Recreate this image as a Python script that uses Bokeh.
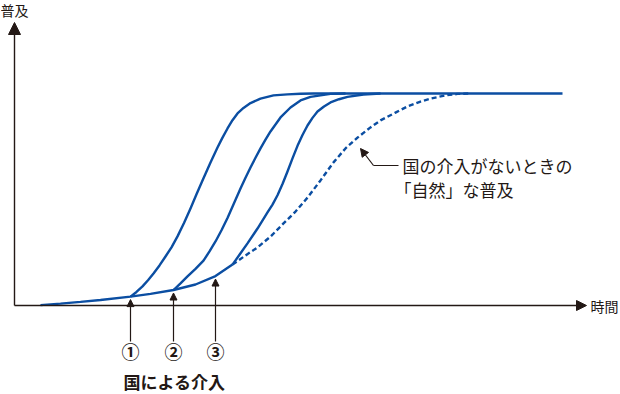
from bokeh.plotting import figure
from bokeh.models import Range1d, Arrow, NormalHead, ColumnDataSource
from bokeh.core.properties import value
from bokeh.embed import file_html
from bokeh.resources import INLINE

# Diffusion over time (time units, adoption in % of saturation)
base_t = [5.2, 9.2, 13.2, 17.2, 23.2, 27.2, 31.8, 36.2, 40.2, 43.6]
base_a = [0.2, 0.9, 1.7, 2.6, 4.2, 5.5, 7.3, 9.9, 13.9, 19.3]

# "Natural" diffusion without intervention (dashed continuation)
natural_t = [43.6, 46.2, 48.6, 51.2, 53.8, 56.2, 58.6, 61.2, 63.8, 66.2,
             68.6, 71.2, 73.2, 76.2, 78.6, 81.2, 83.2, 86.2, 88.6, 91.2]
natural_a = [19.3, 23.6, 27.4, 32.5, 38.7, 44.3, 50.9, 59.0, 67.5, 74.1,
             79.2, 84.0, 87.3, 91.0, 93.9, 96.2, 97.6, 99.1, 99.8, 100.0]

# Diffusion after intervention (1)
int1_t = [23.2, 24.4, 25.6, 26.7, 27.8, 29.0, 30.2, 31.4, 32.6, 33.9,
          35.2, 36.4, 37.6, 39.2, 40.6, 41.6, 42.6, 43.6, 44.6, 45.8,
          47.2, 49.2, 51.8, 54.6, 57.2, 59.8, 109.6]
int1_a = [4.2, 6.4, 9.0, 11.9, 15.1, 18.9, 23.1, 27.4, 32.6, 38.9,
          45.8, 52.5, 59.0, 67.5, 74.5, 79.2, 83.5, 87.4, 90.6, 93.2,
          95.5, 97.6, 99.1, 99.6, 99.9, 100.0, 100.0]

# Diffusion after intervention (2)
int2_t = [31.8, 33.2, 34.6, 36.2, 37.8, 39.0, 40.2, 41.4, 42.6, 43.9,
          45.2, 46.2, 47.2, 48.2, 49.2, 50.2, 51.2, 53.2, 55.2, 57.2,
          59.2, 61.2, 63.2, 66.2]
int2_a = [7.3, 10.4, 13.7, 17.3, 21.2, 25.5, 30.2, 35.5, 41.3, 48.2,
          55.2, 60.3, 65.1, 69.7, 74.1, 78.2, 82.1, 88.7, 93.4, 96.7,
          98.4, 99.1, 99.8, 100.0]

# Diffusion after intervention (3)
int3_t = [43.6, 45.1, 46.6, 48.6, 50.6, 51.6, 52.6, 53.6, 54.6, 55.6,
          56.6, 57.6, 58.6, 59.6, 60.6, 61.9, 63.2, 64.9, 66.6, 69.8, 73.2]
int3_a = [19.3, 24.3, 29.3, 36.3, 43.9, 47.6, 52.0, 57.3, 63.2, 69.4,
          75.3, 80.4, 84.9, 88.5, 91.5, 93.9, 95.8, 97.3, 98.4, 99.5, 100.0]

# Moments of state intervention and their markers
intervention_t = [23.2, 31.8, 40.2]
intervention_level = [4.2, 7.3, 13.9]
intervention_labels = ["①", "②", "③"]

y_label = "普及"
x_label = "時間"
intervention_title = "国による介入"
natural_note = ["国の介入がないときの", "「自然」な普及"]

BLUE = "#0b4ea2"
INK = "#231815"
FONT = "Noto Sans CJK JP"

# canvas geometry: origin of the axes and scale (px per unit)
W, H = 620, 394
X0, XS = 14.0, 5.0
Y0, YS = 305.0, 2.12


def tx(px):
    return (px - X0) / XS


def ay(py):
    return (Y0 - py) / YS


p = figure(width=W, height=H, output_backend="svg", toolbar_location=None,
           x_range=Range1d(tx(0), tx(W)), y_range=Range1d(ay(H), ay(0)),
           min_border=0, outline_line_color=None, background_fill_color="white",
           border_fill_color="white")
p.axis.visible = False
p.grid.visible = False

# axes with arrow heads
p.add_layout(Arrow(end=NormalHead(size=12, fill_color=INK, line_color=INK, line_width=1),
                   x_start=0, y_start=0, x_end=0, y_end=ay(22),
                   line_color=INK, line_width=1.4))
p.add_layout(Arrow(end=NormalHead(size=10, fill_color=INK, line_color=INK, line_width=1),
                   x_start=0, y_start=0, x_end=tx(586), y_end=0,
                   line_color=INK, line_width=1.4))

# curves
lw = 2.4
p.line(base_t, base_a, line_color=BLUE, line_width=lw)
p.line(natural_t, natural_a, line_color=BLUE, line_width=lw, line_dash="5 3")
for ts, vs in ((int1_t, int1_a), (int2_t, int2_a), (int3_t, int3_a)):
    p.line(ts, vs, line_color=BLUE, line_width=lw, line_join="round")

# intervention arrows and numbers
gap = 3.0 / YS
for t, lvl in zip(intervention_t, intervention_level):
    p.add_layout(Arrow(end=NormalHead(size=7, fill_color=INK, line_color=INK, line_width=1),
                       x_start=t, y_start=ay(341), x_end=t, y_end=lvl - gap,
                       line_color=INK, line_width=1.2))

num_src = ColumnDataSource(dict(x=intervention_t, y=[ay(350.5)] * 3, text=intervention_labels))
p.text(x="x", y="y", text="text", source=num_src, text_align="center",
       text_baseline="middle", text_font=value(FONT), text_font_size="18px",
       text_font_style="bold", text_color=INK)

p.text(x=[tx(174)], y=[ay(381)], text=[intervention_title], text_align="center",
       text_baseline="middle", text_font=value(FONT), text_font_size="17px",
       text_font_style="bold", text_color=INK)

# axis titles
p.text(x=[tx(0)], y=[ay(9)], text=[y_label], text_align="left", text_baseline="middle",
       text_font=value(FONT), text_font_size="14px", text_color=INK)
p.text(x=[tx(590)], y=[ay(305)], text=[x_label], text_align="left", text_baseline="middle",
       text_font=value(FONT), text_font_size="14px", text_color=INK)

# callout for the natural diffusion curve
p.line([tx(398), tx(373)], [ay(165), ay(165)], line_color=INK, line_width=1.2)
p.add_layout(Arrow(end=NormalHead(size=8, fill_color=INK, line_color=INK, line_width=1),
                   x_start=tx(373), y_start=ay(165), x_end=tx(360), y_end=ay(148),
                   line_color=INK, line_width=1.2))
p.text(x=[tx(402), tx(394)], y=[ay(164.7), ay(188.5)], text=natural_note,
       text_align="left", text_baseline="middle", text_font=value(FONT),
       text_font_size="17px", text_color=INK)

open("out.html", "w").write(file_html(p, INLINE))
